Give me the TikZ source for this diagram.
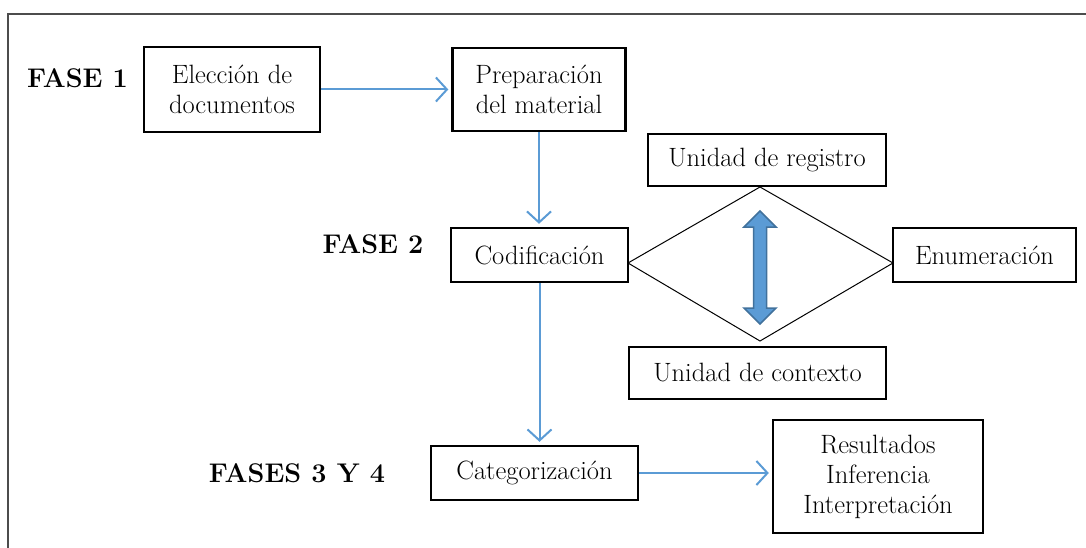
\documentclass[tikz,border=0pt]{standalone}
\usepackage{fontspec}
\setmainfont{Latin Modern Roman}
\usetikzlibrary{arrows.meta}
\definecolor{flowblue}{HTML}{5B9BD5}
\definecolor{flowblueedge}{HTML}{41719C}
\begin{document}
\begin{tikzpicture}[x=1pt,y=-1pt,
  stepbox/.style={draw=black,line width=2.4pt,fill=white,inner sep=2pt,
    align=center,font=\fontsize{26.5}{30}\selectfont},
  phase/.style={font=\fontsize{27}{30}\selectfont\bfseries},
  flow/.style={draw=flowblue,line width=2pt,shorten >=3pt,
    -{Straight Barb[length=11pt,width=24pt,line width=2pt]}},
  thin/.style={draw=black,line width=1pt}]
\useasboundingbox (0,0) rectangle (1086,548);

% frame
\draw[gray!60!black,line width=1.5pt] (8,548) -- (8,14) -- (1086,14);

% phase labels
\node[phase] (f1) at (77.5,78) {FASE 1};
\node[phase] (f2) at (373,244) {FASE 2};
\node[phase] (f34) at (297,473) {FASES 3 Y 4};

% steps
\node[stepbox,minimum width=176pt,minimum height=85pt] (elec) at (232,89.5) {Elección de\\documentos};
\node[stepbox,minimum width=173pt,minimum height=83pt] (prep) at (539,89.5) {Preparación\\del material};
\node[stepbox,minimum width=177pt,minimum height=54pt] (cod) at (539.5,255) {Codificación};
\node[stepbox,minimum width=207pt,minimum height=54pt] (cat) at (534.5,473) {Categorización};
\node[stepbox,minimum width=210pt,minimum height=113pt] (res) at (878,476.5) {Resultados\\Inferencia\\Interpretación};

% coding units around the diamond
\coordinate (dl) at (628,263);
\coordinate (dt) at (760,187);
\coordinate (dr) at (893,263);
\coordinate (db) at (760,341);
\draw[thin] (dl) -- (dt) -- (dr) -- (db) -- cycle;

\node[stepbox,minimum width=238pt,minimum height=52pt] (reg) at (767,160) {Unidad de registro};
\node[stepbox,minimum width=183pt,minimum height=54pt] (enum) at (984.5,255) {Enumeración};
\node[stepbox,minimum width=257pt,minimum height=52pt] (ctx) at (757.5,373) {Unidad de contexto};

% double arrow inside the diamond
\filldraw[fill=flowblue,draw=flowblueedge,line width=1.5pt,line join=miter]
  (760,211) -- (776,227) -- (766.5,227) -- (766.5,308) -- (776,308) -- (760,324)
  -- (744,308) -- (753.5,308) -- (753.5,227) -- (744,227) -- cycle;

% flow connectors
\draw[flow] (elec.east) -- (prep.west);
\draw[flow] (prep.south) -- (prep.south |- cod.north);
\draw[flow] (cod.south) -- (cod.south |- cat.north);
\draw[flow] (cat.east) -- (cat.east -| res.west);
\end{tikzpicture}
\end{document}
